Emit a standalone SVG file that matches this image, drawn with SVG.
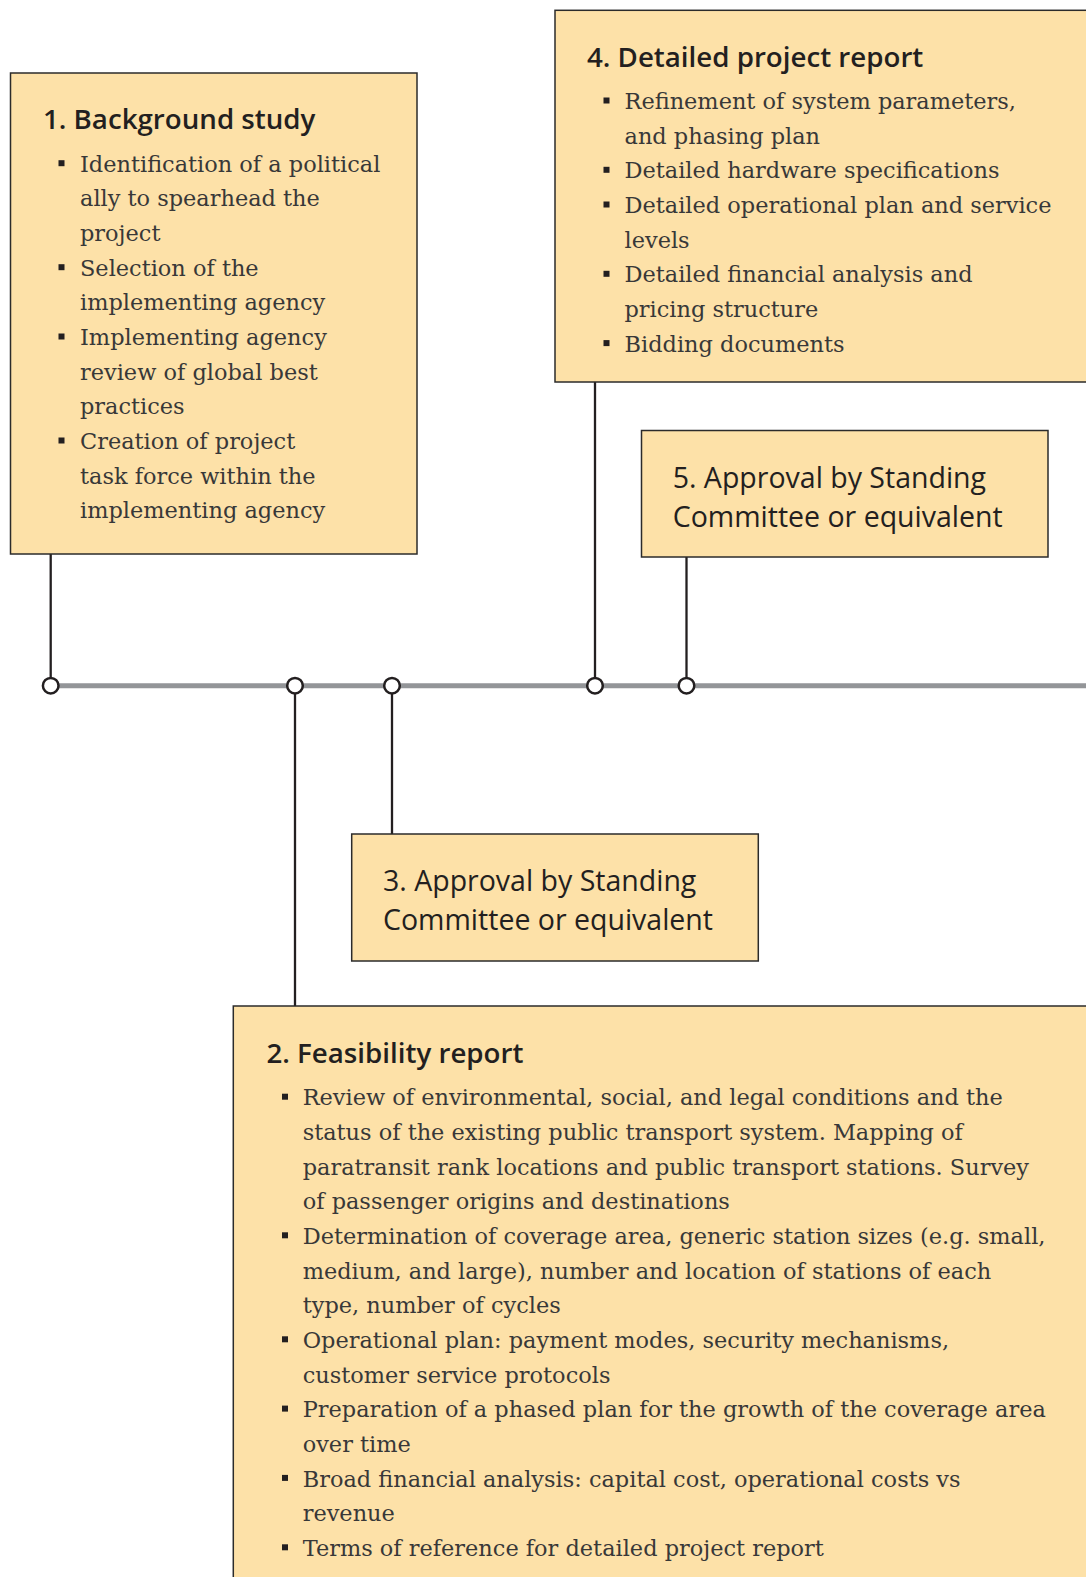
<svg xmlns="http://www.w3.org/2000/svg" width="1086" height="1577" viewBox="0 0 1086 1577">
<style>
.box{fill:#fde1a8;stroke:#2b2b2b;stroke-width:1.5}
.title{font-family:"Open Sans","Noto Sans",sans-serif;font-weight:600;font-size:27.7px;fill:#231f20}
.title2{font-family:"Open Sans","Noto Sans",sans-serif;font-weight:500;font-size:28.5px;fill:#231f20}
.body{font-family:"DejaVu Serif","Liberation Serif",serif;font-size:22.45px;fill:#383838}
.bul{fill:#231f20}
.conn{stroke:#231f20;stroke-width:2.3;fill:none}
.axis{stroke:#939598;stroke-width:5;fill:none}
.dot{fill:#ffffff;stroke:#231f20;stroke-width:2.5}
</style>
<rect width="1086" height="1577" fill="#ffffff"/>
<g id="connectors">
<line class="axis" x1="50.7" y1="685.7" x2="1086" y2="685.7"/>
<line class="conn" x1="50.7" y1="554" x2="50.7" y2="685.7"/>
<line class="conn" x1="295" y1="685.7" x2="295" y2="1006"/>
<line class="conn" x1="392" y1="685.7" x2="392" y2="834"/>
<line class="conn" x1="595" y1="382" x2="595" y2="685.7"/>
<line class="conn" x1="686.5" y1="557" x2="686.5" y2="685.7"/>
<circle class="dot" cx="50.7" cy="685.7" r="7.8"/>
<circle class="dot" cx="295" cy="685.7" r="7.8"/>
<circle class="dot" cx="392" cy="685.7" r="7.8"/>
<circle class="dot" cx="595" cy="685.7" r="7.8"/>
<circle class="dot" cx="686.5" cy="685.7" r="7.8"/>
</g>
<g id="node1">
<rect class="box" x="10.5" y="73" width="406.5" height="481"/>
<text class="title" x="43" y="129">1. Background study</text>
<g class="bul">
<rect x="58.5" y="160.2" width="6" height="6"/>
<rect x="58.5" y="264.2" width="6" height="6"/>
<rect x="58.5" y="333.5" width="6" height="6"/>
<rect x="58.5" y="437.5" width="6" height="6"/>
</g>
<text class="body">
<tspan x="80" y="171.7">Identification of a political</tspan>
<tspan x="80" y="206.4">ally to spearhead the</tspan>
<tspan x="80" y="241">project</tspan>
<tspan x="80" y="275.7">Selection of the</tspan>
<tspan x="80" y="310.3">implementing agency</tspan>
<tspan x="80" y="345">Implementing agency</tspan>
<tspan x="80" y="379.7">review of global best</tspan>
<tspan x="80" y="414.3">practices</tspan>
<tspan x="80" y="449">Creation of project</tspan>
<tspan x="80" y="483.6">task force within the</tspan>
<tspan x="80" y="518.3">implementing agency</tspan>
</text>
</g>
<g id="node4">
<rect class="box" x="555" y="10.3" width="600" height="371.7"/>
<text class="title" x="587" y="66.7">4. Detailed project report</text>
<g class="bul">
<rect x="603.5" y="97.5" width="6" height="6"/>
<rect x="603.5" y="166.8" width="6" height="6"/>
<rect x="603.5" y="201.5" width="6" height="6"/>
<rect x="603.5" y="270.8" width="6" height="6"/>
<rect x="603.5" y="340.1" width="6" height="6"/>
</g>
<text class="body">
<tspan x="624.5" y="109">Refinement of system parameters,</tspan>
<tspan x="624.5" y="143.7">and phasing plan</tspan>
<tspan x="624.5" y="178.3">Detailed hardware specifications</tspan>
<tspan x="624.5" y="213">Detailed operational plan and service</tspan>
<tspan x="624.5" y="247.6">levels</tspan>
<tspan x="624.5" y="282.3">Detailed financial analysis and</tspan>
<tspan x="624.5" y="317">pricing structure</tspan>
<tspan x="624.5" y="351.6">Bidding documents</tspan>
</text>
</g>
<g id="node5">
<rect class="box" x="641.5" y="430.5" width="406.5" height="126.5"/>
<text class="title2"><tspan x="672.7" y="487.5">5. Approval by Standing</tspan><tspan x="672.7" y="526.5">Committee or equivalent</tspan></text>
</g>
<g id="node3">
<rect class="box" x="351.7" y="834" width="406.6" height="127"/>
<text class="title2"><tspan x="383" y="891">3. Approval by Standing</tspan><tspan x="383" y="930">Committee or equivalent</tspan></text>
</g>
<g id="node2">
<rect class="box" x="233.3" y="1006" width="900" height="600"/>
<text class="title" x="266.5" y="1062.7">2. Feasibility report</text>
<g class="bul">
<rect x="282" y="1093.7" width="6" height="6"/>
<rect x="282" y="1232.3" width="6" height="6"/>
<rect x="282" y="1336.3" width="6" height="6"/>
<rect x="282" y="1405.6" width="6" height="6"/>
<rect x="282" y="1474.9" width="6" height="6"/>
<rect x="282" y="1544.3" width="6" height="6"/>
</g>
<text class="body">
<tspan x="302.7" y="1105.2">Review of environmental, social, and legal conditions and the</tspan>
<tspan x="302.7" y="1139.9">status of the existing public transport system. Mapping of</tspan>
<tspan x="302.7" y="1174.5">paratransit rank locations and public transport stations. Survey</tspan>
<tspan x="302.7" y="1209.2">of passenger origins and destinations</tspan>
<tspan x="302.7" y="1243.8">Determination of coverage area, generic station sizes (e.g. small,</tspan>
<tspan x="302.7" y="1278.5">medium, and large), number and location of stations of each</tspan>
<tspan x="302.7" y="1313.2">type, number of cycles</tspan>
<tspan x="302.7" y="1347.8">Operational plan: payment modes, security mechanisms,</tspan>
<tspan x="302.7" y="1382.5">customer service protocols</tspan>
<tspan x="302.7" y="1417.1">Preparation of a phased plan for the growth of the coverage area</tspan>
<tspan x="302.7" y="1451.8">over time</tspan>
<tspan x="302.7" y="1486.5">Broad financial analysis: capital cost, operational costs vs</tspan>
<tspan x="302.7" y="1521.1">revenue</tspan>
<tspan x="302.7" y="1555.8">Terms of reference for detailed project report</tspan>
</text>
</g>
</svg>
